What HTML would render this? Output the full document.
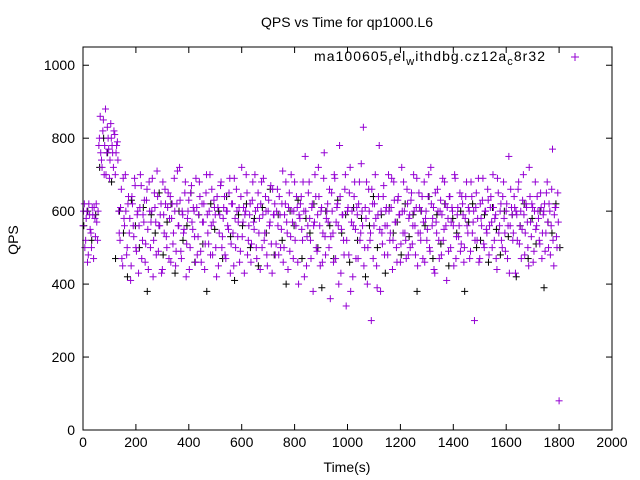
<!DOCTYPE html>
<html><head><meta charset="utf-8"><style>
body{margin:0;background:#fff;}
svg{display:block;font-family:"Liberation Sans",sans-serif;}
</style></head><body>
<svg id="chart" width="640" height="480" viewBox="0 0 640 480" xmlns="http://www.w3.org/2000/svg">
<text x="347" y="27" font-size="14" text-anchor="middle">QPS vs Time for qp1000.L6</text>
<text x="18" y="240" font-size="14" text-anchor="middle" transform="rotate(-90 18 240)">QPS</text>
<text x="347" y="472" font-size="14" text-anchor="middle">Time(s)</text>
<g id="ticks"></g>
<g id="marks"></g>
<rect x="83" y="47" width="529" height="383" fill="none" stroke="#000" stroke-width="1"/>
<text x="314" y="61" font-size="14" textLength="231" lengthAdjust="spacing">ma100605<tspan font-size="11" dy="4">r</tspan><tspan dy="-4">el</tspan><tspan font-size="11" dy="4">w</tspan><tspan dy="-4">ithdbg.cz12a</tspan><tspan font-size="11" dy="4">c</tspan><tspan dy="-4">8r32</tspan></text>
<g stroke="#9400d3" stroke-width="1"><line x1="571" y1="57" x2="579" y2="57"/><line x1="575" y1="53" x2="575" y2="61"/></g>
</svg>
<script>
const xTicks=[0,200,400,600,800,1000,1200,1400,1600,1800,2000];
const yTicks=[0,200,400,600,800,1000];
const purpleStart=[560,620,520,600,480,590,540,610,470,580,620,520,
780,860,740,820,700,880,760,800,690,840,780,720,810,760,790];
const purpleStart2=[600,500,580,460,620,550,500,590,610,530,570,600,
800,760,720,850,780,700,830,770,740,800,760,820,700,780,740];
const purpleMain=[600,520,660,450,580,700,480,620,540,410,640,560,690,500,590,430,610,670,520,570,
460,630,550,680,500,600,420,650,570,710,490,560,620,440,590,660,530,610,470,640,
580,510,690,450,620,560,720,490,600,540,650,420,580,630,500,670,550,600,460,610,
530,680,490,620,570,440,650,590,510,700,560,480,630,590,420,610,540,670,500,580,
640,470,600,550,690,510,620,450,580,660,530,610,490,720,570,430,600,650,520,590,
460,630,570,700,500,610,540,440,680,590,520,640,480,600,560,670,430,590,620,510,
660,480,590,550,710,500,620,570,440,650,530,600,470,680,560,610,400,580,640,520,
600,750,450,560,680,520,610,380,570,640,490,720,560,600,460,690,530,580,620,500,
360,650,540,700,470,610,560,780,430,590,520,660,340,600,480,720,570,420,640,550,
610,470,680,540,600,830,500,580,400,660,520,300,620,560,700,450,590,780,380,540,
640,480,600,560,700,520,610,440,680,570,500,630,590,460,720,540,600,520,660,480,
590,630,510,700,560,610,450,650,540,600,470,680,580,520,640,500,720,560,610,430,
570,660,520,600,480,690,550,620,410,580,640,500,610,560,700,470,590,530,650,510,
620,460,580,680,540,600,490,640,570,300,610,520,690,470,580,630,510,600,550,660,
480,610,570,700,520,590,440,650,560,620,500,680,540,600,470,750,560,610,520,640,
430,590,660,510,600,550,700,480,620,570,450,640,530,610,490,680,560,600,520,650,
470,590,620,540,680,500,600,560,770,450,610,530,650,80];
const purpleMain2=[540,610,470,690,560,600,500,640,580,450,620,530,670,490,600,560,700,470,590,630,
510,660,440,600,570,690,520,610,480,640,560,590,430,680,540,620,500,650,580,460,
620,540,600,490,710,560,630,470,590,550,680,510,600,440,650,570,610,530,690,480,
590,640,460,570,620,510,700,540,600,480,660,570,610,500,640,450,590,680,530,610,
480,600,560,650,430,620,540,690,500,600,570,460,640,530,610,590,700,480,560,620,
510,680,550,600,470,650,580,620,500,690,540,600,450,630,570,510,660,590,480,600,
560,640,500,620,460,590,680,540,610,490,700,570,600,520,640,460,590,620,550,680,
420,600,530,650,580,470,620,560,700,500,590,640,450,610,540,760,480,600,570,660,
530,600,460,690,570,620,400,640,550,590,480,700,520,610,650,380,600,560,680,470,
590,620,520,730,560,450,610,680,500,600,540,660,470,620,580,390,640,550,600,510,
670,560,610,480,600,540,690,520,630,570,460,640,590,510,600,680,540,470,620,580,
500,650,560,600,480,690,540,610,520,640,570,460,600,550,700,490,620,580,440,650,
540,600,470,630,590,520,680,560,610,490,640,570,600,450,690,530,610,560,490,640,
590,500,640,560,610,470,680,540,600,520,650,580,460,620,560,690,500,600,540,630,
560,640,500,610,580,470,690,540,600,520,640,580,490,620,560,430,660,590,540,610,
600,520,680,560,470,630,590,540,610,500,720,570,620,460,600,550,640,580,510,610,
540,600,490,650,570,620,480,660,520,590,610,500,570];
const blackVals=[560,600,520,590,720,800,760,680,470,600,540,420,630,560,500,610,380,590,540,650,
480,570,620,430,600,520,560,650,460,590,510,380,620,550,600,470,640,530,410,590,
560,620,500,580,450,610,540,660,480,590,520,400,600,560,630,470,580,540,620,500,
390,600,560,470,630,540,590,460,610,520,580,420,560,640,500,590,430,610,540,570,
480,620,530,590,380,600,560,640,470,590,510,620,450,580,540,600,380,570,620,500,
520,590,460,610,550,480,600,530,590,420,560,620,470,580,510,600,390,570,540,620,500];
const X0=83,X1=612,Y0=430,YT=47,XMAX=2000,YMAX=1050,S=3.5;
function xs(v){return X0+v/XMAX*(X1-X0);}
function ys(v){return Y0-v/YMAX*(Y0-YT);}
const NS="http://www.w3.org/2000/svg";
const tg=document.getElementById('ticks'),mg=document.getElementById('marks');
function ln(g,a,b,c,d,col){const l=document.createElementNS(NS,'line');l.setAttribute('x1',a);l.setAttribute('y1',b);l.setAttribute('x2',c);l.setAttribute('y2',d);l.setAttribute('stroke',col);g.appendChild(l);return l;}
xTicks.forEach(t=>{const x=xs(t);
ln(tg,x,Y0,x,Y0-6,'#000');ln(tg,x,YT,x,YT+6,'#000');
const tx=document.createElementNS(NS,'text');


tx.setAttribute('x',x);tx.setAttribute('y',Y0+17);tx.setAttribute('font-size','14');tx.setAttribute('text-anchor','middle');tx.textContent=t;tg.appendChild(tx);});
yTicks.forEach(t=>{const y=ys(t);
ln(tg,X0,y,X0+6,y,'#000');ln(tg,X1,y,X1-6,y,'#000');
const tx=document.createElementNS(NS,'text');


tx.setAttribute('x',X0-8);tx.setAttribute('y',y+5);tx.setAttribute('font-size','14');tx.setAttribute('text-anchor','end');tx.textContent=t;tg.appendChild(tx);});
function plus(t,v,col,name){const g=document.createElementNS(NS,'g');


const x=xs(t),y=ys(v);ln(g,x-S,y,x+S,y,col);ln(g,x,y-S,x,y+S,col);mg.appendChild(g);}
blackVals.forEach((v,i)=>plus(i*15+3,v,'#000','black-point'));
purpleStart.forEach((v,i)=>plus(i*5,v,'#9400d3','qps-point'));
purpleStart2.forEach((v,i)=>plus(i*5+2,v,'#9400d3','qps-point'));
purpleMain.forEach((v,i)=>plus(135+i*5,v,'#9400d3','qps-point'));
purpleMain2.forEach((v,i)=>plus(137+i*5,v,'#9400d3','qps-point'));
</script>
</body></html>
